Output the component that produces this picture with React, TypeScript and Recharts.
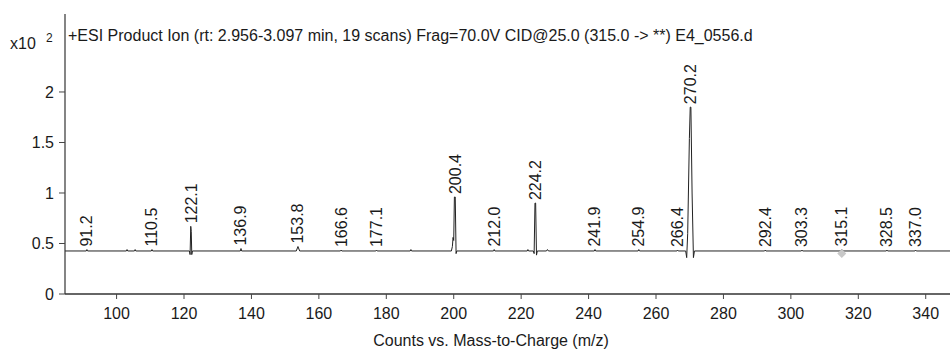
import React from 'react';
import { ComposedChart, Line, Scatter, XAxis, YAxis } from 'recharts';

// Profile trace of the product-ion spectrum (m/z, counts x10^2)
const traceMz = [
  84.7, 91.0, 91.2, 91.4, 102.9, 103.1, 103.3, 105.3, 105.5, 105.7, 110.3, 110.5, 110.7,
  121.6, 121.8, 122.0, 122.15, 122.3, 122.5,
  136.7, 136.9, 137.1, 153.3, 153.8, 154.3, 166.4, 166.6, 166.8, 176.9, 177.1, 177.3,
  187.1, 187.3, 187.5,
  199.3, 199.6, 199.8, 200.0, 200.2, 200.45, 200.7, 200.9,
  211.8, 212.0, 212.2, 221.8, 222.0, 222.2,
  223.6, 223.85, 224.1, 224.3, 224.55, 224.8, 227.5, 227.8, 228.1,
  241.7, 241.9, 242.1, 254.7, 254.9, 255.1, 266.2, 266.4, 266.6,
  268.8, 269.1, 269.4, 269.9, 270.15, 270.35, 270.7, 271.1, 271.4,
  292.2, 292.4, 292.6, 303.1, 303.3, 303.5, 314.9, 315.1, 315.3,
  328.3, 328.5, 328.7, 336.8, 337.0, 337.2, 347.2,
];
const traceIntensity = [
  0.426, 0.426, 0.44, 0.426, 0.426, 0.44, 0.426, 0.426, 0.44, 0.426, 0.426, 0.44, 0.426,
  0.426, 0.39, 0.67, 0.62, 0.39, 0.426,
  0.426, 0.45, 0.426, 0.426, 0.47, 0.426, 0.426, 0.435, 0.426, 0.426, 0.435, 0.426,
  0.426, 0.44, 0.426,
  0.426, 0.47, 0.56, 0.53, 0.96, 0.96, 0.40, 0.426,
  0.426, 0.44, 0.426, 0.426, 0.44, 0.426,
  0.426, 0.40, 0.90, 0.90, 0.385, 0.426, 0.426, 0.44, 0.426,
  0.426, 0.44, 0.426, 0.426, 0.44, 0.426, 0.426, 0.435, 0.426,
  0.426, 0.36, 0.60, 1.54, 1.85, 1.85, 1.0, 0.36, 0.426,
  0.426, 0.435, 0.426, 0.426, 0.435, 0.426, 0.426, 0.44, 0.426,
  0.426, 0.435, 0.426, 0.426, 0.435, 0.426, 0.426,
];

// Peak annotations
const peakLabels = [
  '91.2', '110.5', '122.1', '136.9', '153.8', '166.6', '177.1', '200.4', '212.0', '224.2',
  '241.9', '254.9', '266.4', '270.2', '292.4', '303.3', '315.1', '328.5', '337.0',
];
const peakMz = [
  91.2, 110.5, 122.1, 136.9, 153.8, 166.6, 177.1, 200.4, 212.0, 224.2,
  241.9, 254.9, 266.4, 270.2, 292.4, 303.3, 315.1, 328.5, 337.0,
];
const peakTop = [
  0.44, 0.44, 0.67, 0.45, 0.47, 0.435, 0.435, 0.96, 0.44, 0.90,
  0.44, 0.44, 0.435, 1.85, 0.435, 0.435, 0.44, 0.435, 0.435,
];

// Precursor marker
const precursorMz = [315.1];
const precursorLevel = [0.40];

const xTicks = [100, 120, 140, 160, 180, 200, 220, 240, 260, 280, 300, 320, 340];
const yTicks = [0, 0.5, 1, 1.5, 2];

const trace = traceMz.map((m, i) => ({ mz: m, v: traceIntensity[i] }));
const peaks = peakMz.map((m, i) => ({ mz: m, v: peakTop[i], label: peakLabels[i] }));
const precursor = precursorMz.map((m, i) => ({ mz: m, v: precursorLevel[i] }));

const FONT = '"Liberation Sans", Arial, Helvetica, sans-serif';
const TEXT = '#1a1a1a';

const PeakLabel = (p: any) => {
  const { cx, cy, payload } = p;
  if (cx == null || cy == null) return null;
  const y = cy - 3;
  return (
    <text
      x={cx}
      y={y}
      transform={`rotate(-90 ${cx} ${y})`}
      textAnchor="start"
      dominantBaseline="central"
      fontSize={16}
      fontFamily={FONT}
      fill={TEXT}
    >
      {payload.label}
    </text>
  );
};

const Diamond = (p: any) => {
  const { cx, cy } = p;
  if (cx == null || cy == null) return null;
  const r = 4.5;
  return (
    <polygon
      points={`${cx},${cy - r} ${cx + r},${cy} ${cx},${cy + r} ${cx - r},${cy}`}
      fill="#c8c8c8"
    />
  );
};

export default function App() {
  return (
    <div style={{ position: 'absolute', left: 0, top: 0, width: 950, height: 350, overflow: 'hidden', background: '#fff' }}>
      <ComposedChart
        width={950}
        height={350}
        margin={{ top: 14, right: 0, bottom: 26, left: 0 }}
        style={{ fontFamily: FONT }}
      >
        <XAxis
          xAxisId={0}
          dataKey="mz"
          type="number"
          domain={[84.7, 347.2]}
          allowDataOverflow
          ticks={xTicks}
          height={30}
          tickSize={5}
          tickMargin={9}
          tick={{ fontSize: 16, fill: TEXT, fontFamily: FONT }}
          axisLine={{ stroke: '#666', strokeWidth: 2 }}
          tickLine={{ stroke: '#444' }}
        />
        <XAxis
          xAxisId="top"
          dataKey="mz"
          type="number"
          orientation="top"
          domain={[84.7, 347.2]}
          allowDataOverflow
          height={0}
          tick={false}
          tickLine={false}
          axisLine={{ stroke: '#333', strokeWidth: 1.2 }}
        />
        <YAxis
          type="number"
          domain={[0, 2.772]}
          allowDataOverflow
          ticks={yTicks}
          width={65}
          tickSize={6}
          tickMargin={5}
          tick={{ fontSize: 16, fill: TEXT, fontFamily: FONT }}
          axisLine={{ stroke: '#333', strokeWidth: 1.2 }}
          tickLine={{ stroke: '#444' }}
          tickFormatter={(v: number) => String(v)}
        />
        <Line
          data={trace}
          dataKey="v"
          type="linear"
          stroke="#222"
          strokeWidth={1}
          dot={false}
          activeDot={false}
          isAnimationActive={false}
        />
        <Scatter data={precursor} dataKey="v" shape={Diamond} isAnimationActive={false} />
        <Scatter data={peaks} dataKey="v" shape={PeakLabel} isAnimationActive={false} />
        <text x={68} y={41} fontSize={16} fontFamily={FONT} fill={TEXT}>
          +ESI Product Ion (rt: 2.956-3.097 min, 19 scans) Frag=70.0V CID@25.0 (315.0 -&gt; **) E4_0556.d
        </text>
        <text x={10} y={49} fontSize={16} fontFamily={FONT} fill={TEXT}>x10</text>
        <text x={46} y={42} fontSize={12} fontFamily={FONT} fill={TEXT}>2</text>
        <text x={491} y={346} textAnchor="middle" fontSize={16} fontFamily={FONT} fill={TEXT}>
          Counts vs. Mass-to-Charge (m/z)
        </text>
      </ComposedChart>
    </div>
  );
}
